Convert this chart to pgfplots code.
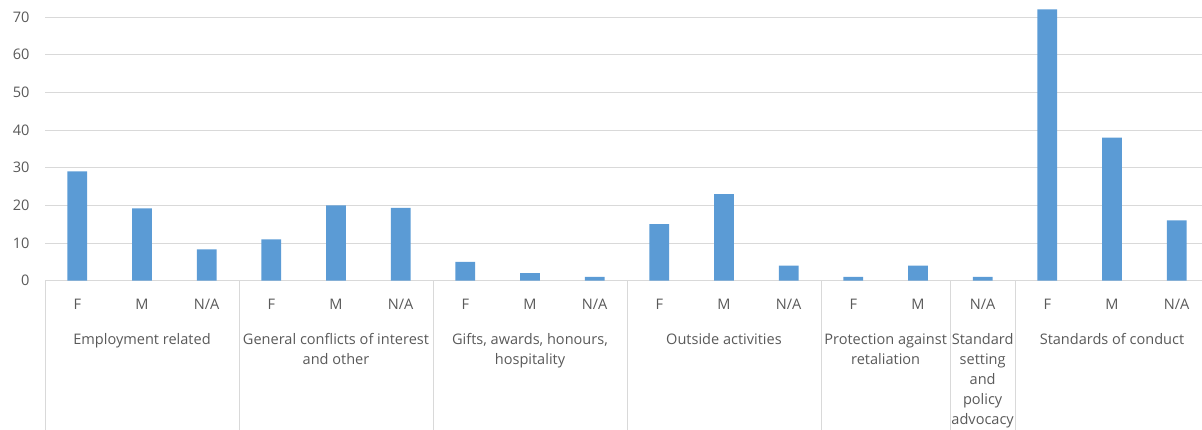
\documentclass[border=0pt]{standalone}
\usepackage{fontspec}
\setmainfont{Open Sans}
\usepackage{pgfplots}
\pgfplotsset{compat=1.18}
\definecolor{barblue}{HTML}{5B9BD5}
\definecolor{gridgray}{HTML}{D9D9D9}
\definecolor{txtgray}{HTML}{595959}
\newcommand{\lbl}{\fontsize{14.6}{17}\selectfont}
\begin{document}
\begin{tikzpicture}
\begin{axis}[
  scale only axis, width=1164bp, height=280.7bp,
  xmin=-0.5, xmax=17.5, ymin=0, ymax=74.5,
  axis x line*=bottom, axis y line*=left,
  y axis line style={draw=none},
  x axis line style={draw=gridgray, line width=0.8bp, -},
  major tick length=0pt,
  ytick={0,10,...,70}, ymajorgrids,
  grid style={draw=gridgray, line width=0.8bp},
  xtick={0,...,17},
  xticklabels={F,M,N/A,F,M,N/A,F,M,N/A,F,M,N/A,F,M,N/A,F,M,N/A},
  tick label style={font=\lbl, text=txtgray},
  xticklabel style={anchor=base, yshift=-29bp},
  yticklabel style={anchor=east, xshift=-12bp},
  /pgf/number format/assume math mode=true,
  ybar, bar width=19.7bp,
  clip=false,
]
\addplot[fill=barblue, draw=none] coordinates {
 (0,29) (1,19.2) (2,8.3)
 (3,11) (4,20) (5,19.3)
 (6,5) (7,2) (8,1)
 (9,15) (10,23) (11,4)
 (12,1) (13,4)
 (14,1)
 (15,72) (16,38) (17,16)};
\pgfplotsinvokeforeach{-0.5,2.5,5.5,8.5,11.5,13.5,14.5,17.5}{
  \draw[gridgray, line width=0.8bp] (axis cs:#1,0) -- ([yshift=-150bp]axis cs:#1,0);
}
\begin{scope}[every node/.style={anchor=base, inner sep=0pt, font=\lbl, text=txtgray}]
\node at ([yshift=-63.5bp]axis cs:1,0) {Employment related};
\node at ([yshift=-63.5bp]axis cs:4,0) {General conflicts of interest};
\node at ([yshift=-83.5bp]axis cs:4,0) {and other};
\node at ([yshift=-63.5bp]axis cs:7,0) {Gifts, awards, honours,};
\node at ([yshift=-83.5bp]axis cs:7,0) {hospitality};
\node at ([yshift=-63.5bp]axis cs:10,0) {Outside activities};
\node at ([yshift=-63.5bp]axis cs:12.5,0) {Protection against};
\node at ([yshift=-83.5bp]axis cs:12.5,0) {retaliation};
\node at ([yshift=-63.5bp]axis cs:14,0) {Standard};
\node at ([yshift=-83.5bp]axis cs:14,0) {setting};
\node at ([yshift=-103.5bp]axis cs:14,0) {and};
\node at ([yshift=-123.5bp]axis cs:14,0) {policy};
\node at ([yshift=-143.5bp]axis cs:14,0) {advocacy};
\node at ([yshift=-63.5bp]axis cs:16,0) {Standards of conduct};
\end{scope}
\end{axis}
\pgfresetboundingbox
\useasboundingbox (-45bp,-149.3bp) rectangle (1157bp,280.7bp);
\end{tikzpicture}
\end{document}
